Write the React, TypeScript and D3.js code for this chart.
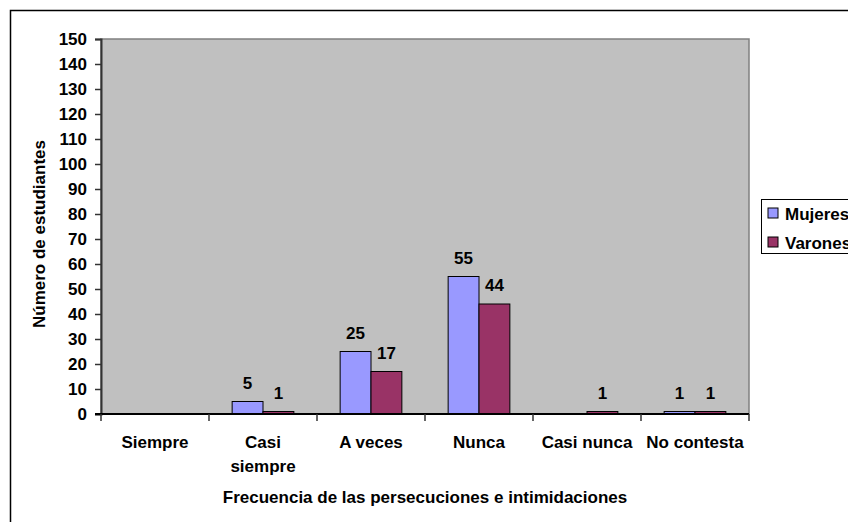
import React, { useEffect, useRef } from 'react';
import * as d3 from 'd3';

const categories = ['Siempre', 'Casi siempre', 'A veces', 'Nunca', 'Casi nunca', 'No contesta'];
const seriesNames = ['Mujeres', 'Varones'];
const mujeres = [0, 5, 25, 55, 0, 1];
const varones = [0, 1, 17, 44, 1, 1];
const yTicks = d3.range(0, 151, 10);
const colors = ['#9999FF', '#993366'];

function App() {
  const chartRef = useRef<SVGSVGElement>(null);

  useEffect(() => {
    const svg = d3.select(chartRef.current);
    svg.selectAll('*').remove();

    const width = 848, height = 522;
    const margin = { top: 39, right: 99, bottom: 108, left: 101 };
    const font = "'Liberation Sans', Arial, sans-serif";

    // outer chart frame (cut off at the right and bottom)
    svg.append('rect')
      .attr('x', 10.5).attr('y', 10.5)
      .attr('width', 900).attr('height', 600)
      .attr('fill', 'white').attr('stroke', 'black').attr('stroke-width', 1.5);

    const x0 = d3.scaleBand().domain(categories)
      .range([margin.left, width - margin.right]);
    const x1 = d3.scaleBand().domain(seriesNames)
      .range([0, x0.bandwidth()]).paddingInner(0).paddingOuter(0.75);
    const y = d3.scaleLinear().domain([0, 150])
      .range([height - margin.bottom, margin.top]);

    // plot area
    svg.append('rect')
      .attr('x', margin.left).attr('y', margin.top)
      .attr('width', width - margin.right - margin.left)
      .attr('height', y(0) - margin.top)
      .attr('fill', '#C0C0C0').attr('stroke', '#808080').attr('stroke-width', 1.5);

    const series = [mujeres, varones];
    const g = svg.append('g');
    categories.forEach((c, i) => {
      series.forEach((vals, s) => {
        const v = vals[i];
        if (v === 0) return;
        const bx = (x0(c) as number) + (x1(seriesNames[s]) as number);
        g.append('rect')
          .attr('x', bx).attr('y', y(v))
          .attr('width', x1.bandwidth()).attr('height', y(0) - y(v))
          .attr('fill', colors[s]).attr('stroke', 'black').attr('stroke-width', 1);
        g.append('text')
          .attr('x', bx + x1.bandwidth() / 2).attr('y', y(v) - 13)
          .attr('text-anchor', 'middle')
          .style('font-family', font).style('font-weight', 'bold').style('font-size', '17px')
          .text(v);
      });
    });

    // y axis
    const yAxis = svg.append('g')
      .attr('transform', `translate(${margin.left}, 0)`)
      .call(d3.axisLeft(y).tickValues(yTicks).tickSize(6).tickPadding(8));
    yAxis.select('.domain').attr('stroke', '#333').attr('stroke-width', 2);
    yAxis.selectAll('.tick line').attr('stroke', '#333').attr('stroke-width', 1.5);
    yAxis.selectAll('text')
      .style('font-family', font).style('font-weight', 'bold').style('font-size', '17px')
      .attr('fill', 'black');

    // x axis
    const xAxis = svg.append('g')
      .attr('transform', `translate(0, ${y(0)})`);
    xAxis.append('line')
      .attr('x1', margin.left - 6).attr('x2', width - margin.right)
      .attr('stroke', 'black').attr('stroke-width', 2);
    const bounds = categories.map(c => x0(c) as number).concat([width - margin.right]);
    xAxis.selectAll('line.tk').data(bounds).enter().append('line')
      .attr('class', 'tk')
      .attr('x1', d => d).attr('x2', d => d)
      .attr('y1', 0).attr('y2', 7)
      .attr('stroke', '#333').attr('stroke-width', 1.5);

    categories.forEach(c => {
      const t = xAxis.append('text')
        .attr('x', (x0(c) as number) + x0.bandwidth() / 2).attr('y', 34)
        .attr('text-anchor', 'middle')
        .style('font-family', font).style('font-weight', 'bold').style('font-size', '17px')
        .text(c);
      const node = t.node() as SVGTextElement;
      if (node.getComputedTextLength() > 100) {
        const words = c.split(' ');
        t.text(null);
        words.forEach((w, k) => {
          t.append('tspan')
            .attr('x', (x0(c) as number) + x0.bandwidth() / 2)
            .attr('dy', k === 0 ? 0 : 24)
            .text(w);
        });
      }
    });

    // axis titles
    svg.append('text')
      .attr('x', (margin.left + width - margin.right) / 2).attr('y', 503)
      .attr('text-anchor', 'middle')
      .style('font-family', font).style('font-weight', 'bold').style('font-size', '17px')
      .text('Frecuencia de las persecuciones e intimidaciones');
    svg.append('text')
      .attr('transform', 'translate(45, 234) rotate(-90)')
      .attr('text-anchor', 'middle')
      .style('font-family', font).style('font-weight', 'bold').style('font-size', '17px')
      .text('Número de estudiantes');

    // legend
    const lg = svg.append('g').attr('transform', 'translate(761, 199)');
    lg.append('rect')
      .attr('x', 0.5).attr('y', 0.5).attr('width', 120).attr('height', 54)
      .attr('fill', 'white').attr('stroke', 'black').attr('stroke-width', 1);
    seriesNames.forEach((n, s) => {
      lg.append('rect')
        .attr('x', 7).attr('y', 9 + s * 29).attr('width', 10).attr('height', 10)
        .attr('fill', colors[s]).attr('stroke', 'black').attr('stroke-width', 1);
      lg.append('text')
        .attr('x', 24).attr('y', 21 + s * 29)
        .style('font-family', font).style('font-weight', 'bold').style('font-size', '17px')
        .text(n);
    });
  }, []);

  return (
    <svg ref={chartRef} width="848" height="522"
      style={{ position: 'absolute', left: 0, top: 0, background: 'white' }}></svg>
  );
}

export default App;
